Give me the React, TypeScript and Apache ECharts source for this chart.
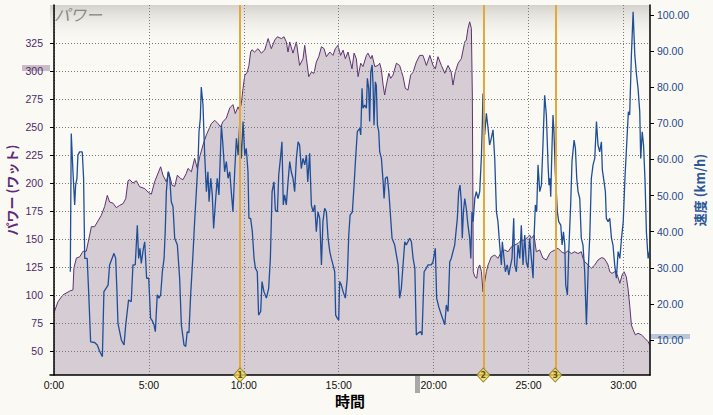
import React, { useEffect, useRef } from "react";
import * as echarts from "echarts";

// ---- data (time in minutes) ----
const powerTime = [0.00,0.21,0.47,0.83,1.00,1.05,1.18,1.35,1.53,1.70,1.88,1.97,2.14,2.49,2.67,2.81,2.93,3.11,3.28,3.46,3.64,3.78,3.90,3.99,4.16,4.34,4.51,4.78,4.95,5.13,5.30,5.62,5.74,5.92,6.04,6.22,6.36,6.50,6.67,6.80,6.97,7.06,7.24,7.41,7.55,7.68,7.85,8.03,8.29,8.47,8.64,8.78,8.90,9.08,9.26,9.43,9.55,9.70,9.78,9.87,9.96,10.05,10.18,10.27,10.36,10.43,10.57,10.75,10.92,11.10,11.28,11.45,11.63,11.77,11.98,12.12,12.24,12.33,12.42,12.59,12.77,12.94,13.12,13.21,13.30,13.42,13.56,13.70,13.82,13.95,14.09,14.23,14.35,14.53,14.70,14.82,14.96,15.10,15.23,15.35,15.49,15.63,15.70,15.81,15.93,16.02,16.16,16.28,16.46,16.54,16.69,16.76,16.90,17.07,17.16,17.25,17.34,17.42,17.51,17.64,17.74,17.86,18.04,18.21,18.39,18.51,18.65,18.79,18.92,19.09,19.27,19.44,19.62,19.80,19.97,20.09,20.23,20.41,20.59,20.76,20.93,21.02,21.14,21.29,21.46,21.64,21.72,21.81,21.90,21.99,22.04,22.09,22.17,22.27,22.34,22.43,22.52,22.60,22.69,22.78,22.87,23.04,23.22,23.39,23.57,23.75,23.92,24.10,24.27,24.45,24.62,24.80,24.97,25.06,25.15,25.29,25.41,25.59,25.76,25.94,26.12,26.20,26.38,26.56,26.73,26.91,27.08,27.26,27.43,27.61,27.78,27.87,27.96,28.14,28.31,28.49,28.66,28.84,28.98,29.10,29.19,29.28,29.40,29.54,29.68,29.81,29.93,30.03,30.15,30.24,30.33,30.42,30.51,30.63,30.77,30.95,31.13,31.30,31.39];
const powerWatts = [84,94,100,103.5,104.5,124,133,134,139,139,153.5,161,161,171,179,189,183,182,178,180,181.6,186,202,203,200,202,196.7,195,192,190,201,214.5,207,201,210,198,197,207,204,203,208.6,213,210,222,213,223.5,234,243,253,256,253,250,254.7,258,267,270,262,268,265,271,284.5,296,299,305,317,319,317,320,316,318.7,329,320,327.7,330.6,329,330.6,326,317,326,316,326,305,311,323,311,295,299,298,308,312.8,321.7,320,312.8,317,314,320,323,314,318.7,311,317,307,302,316,311,295,307,304,314,316,311,314,304,305,307,301,287.5,278.6,287.5,298,293.5,296.4,307,305,295,284.5,283,296.4,299,308,314,314,305,314,305,302,312.8,305,298,305,299,287.5,299,307,311,326,327.7,338,344,338,278.6,120.8,116.3,114.9,123.8,126.8,120.8,103,111.9,120.8,126.8,134,135.7,132.7,138.6,140.2,138.6,143,144.6,146,149,149,152,153.5,150.6,153.5,138.6,140.2,133,131.2,137.2,138.6,140,141.7,138.6,137,139.5,137,138.6,137,138.6,132.7,129.7,126.8,123.8,126.8,131.2,133.3,132.7,129.7,126.8,120.8,119.3,120.8,117.8,110.4,117.8,120.8,116.3,106,91,73.2,69,64.3,65.8,64.3,61.3,58.3,55.3];

const speedTime = [0.86,0.91,1.00,1.09,1.14,1.21,1.26,1.35,1.49,1.56,1.62,1.75,1.84,1.93,2.14,2.28,2.41,2.55,2.63,2.85,2.93,3.16,3.25,3.32,3.37,3.55,3.69,3.78,3.86,3.93,4.07,4.16,4.28,4.39,4.46,4.53,4.60,4.71,4.78,4.88,4.99,5.09,5.16,5.27,5.34,5.44,5.53,5.62,5.71,5.80,5.86,5.92,6.01,6.10,6.18,6.27,6.36,6.50,6.62,6.71,6.85,6.94,7.02,7.11,7.20,7.32,7.41,7.50,7.59,7.64,7.71,7.76,7.85,7.94,8.03,8.11,8.17,8.26,8.34,8.41,8.52,8.60,8.69,8.82,8.90,8.99,9.08,9.17,9.26,9.34,9.43,9.52,9.61,9.70,9.78,9.87,9.96,10.05,10.13,10.22,10.27,10.36,10.45,10.54,10.61,10.71,10.78,10.89,10.96,11.06,11.19,11.31,11.40,11.49,11.59,11.66,11.77,11.84,11.93,12.01,12.08,12.15,12.24,12.33,12.42,12.50,12.59,12.68,12.77,12.86,12.94,13.03,13.12,13.21,13.30,13.37,13.47,13.56,13.65,13.74,13.82,13.91,14.00,14.09,14.17,14.26,14.35,14.44,14.53,14.61,14.70,14.79,14.84,14.93,15.00,15.05,15.14,15.23,15.35,15.45,15.53,15.60,15.72,15.81,15.88,15.98,16.11,16.16,16.23,16.28,16.37,16.46,16.51,16.58,16.63,16.69,16.76,16.81,16.86,16.93,16.98,17.04,17.11,17.16,17.25,17.34,17.39,17.46,17.56,17.64,17.72,17.81,17.95,18.04,18.13,18.21,18.30,18.39,18.48,18.56,18.74,18.83,18.92,19.01,19.09,19.18,19.32,19.39,19.50,19.62,19.71,19.88,19.97,20.09,20.16,20.27,20.41,20.59,20.67,20.76,20.85,20.93,21.02,21.11,21.25,21.32,21.39,21.46,21.51,21.57,21.64,21.72,21.81,21.90,21.96,22.02,22.08,22.17,22.25,22.34,22.43,22.52,22.57,22.60,22.69,22.78,22.87,22.95,23.04,23.13,23.22,23.31,23.39,23.48,23.57,23.62,23.71,23.78,23.88,23.96,24.06,24.13,24.22,24.27,24.36,24.45,24.54,24.62,24.71,24.80,24.88,24.97,25.06,25.15,25.24,25.29,25.36,25.43,25.50,25.59,25.68,25.76,25.85,25.94,26.03,26.08,26.13,26.17,26.24,26.29,26.34,26.41,26.52,26.59,26.70,26.77,26.84,26.91,26.96,27.05,27.12,27.22,27.29,27.40,27.47,27.54,27.61,27.70,27.78,27.87,27.96,28.05,28.14,28.23,28.31,28.40,28.49,28.58,28.66,28.75,28.84,28.89,28.98,29.05,29.10,29.19,29.28,29.37,29.45,29.54,29.63,29.72,29.81,29.90,29.99,30.08,30.17,30.26,30.33,30.42,30.51,30.60,30.69,30.77,30.86,30.91,30.99,31.06,31.14,31.21,31.30,31.37];
const speedKmh = [28.9,67.2,56.6,47.4,52.9,54.8,61.2,62.1,62.1,54.8,32.6,32.6,21.6,9.5,9.3,8.6,6.8,5.4,23.4,25.2,30.8,34,32.6,23,14.6,10,8.6,14.2,17.9,21.1,20.6,30.8,30.8,41.8,32.6,35.4,31.2,35.4,37.2,27.1,27.1,16,15.5,14.2,12.3,22.5,21.6,22.5,28.9,32.6,40,51.1,56.6,54.8,48.3,46.9,38.2,36.3,27.1,14.2,8.6,8.2,12.3,12.0,22.5,33.5,42.8,51.1,59.4,67.7,71.4,80.1,75.1,61.2,51.1,56.6,48.3,54.8,50.2,40.9,49.2,54.8,50.2,69.5,64,56.6,59.4,54.8,56.6,51.1,45.5,56.6,65.9,61.2,69.5,60.3,70.5,61.2,63.1,56.6,43.7,43.7,40,32.6,29.9,28.9,16.9,17.9,26.2,23.4,21.6,24.3,32.6,51.1,53.8,46,45.5,55.7,60.3,64.9,47.4,50.2,47.4,53.8,59.4,56.6,54.8,51.1,60.3,64.9,64,57.5,60.3,58.5,61.2,53.8,61.7,47.4,45.5,47.4,40,45.5,43.7,30.8,42.8,46.5,45.5,38.2,34.5,32.6,30.8,28.9,16.9,16,15.5,26.2,25.2,23.4,21.6,27.1,39.1,44.6,45.5,52.9,59.4,67.7,68.6,66.8,79.7,74.2,75.1,74.2,82.5,79.7,70.5,84.3,86.2,80.6,69.5,81.5,80.6,69.5,67.7,62.1,60.3,53.8,49.2,54.8,55.2,51.1,45.1,38.2,36.3,33.5,30.8,21.6,24.3,30.8,37.2,36.3,38.2,37.2,32.6,29.9,11.4,11.9,12.3,11.4,28.9,29.9,30.8,30.8,31.7,35.4,21.6,19.2,16.9,14.2,19.7,17.9,31.7,32.6,34.5,36.3,43.7,51.1,52.9,48.3,38.2,45.5,49.2,46.5,41.8,38.2,32.6,45.5,42.8,49.2,51.1,49.2,51.1,61.2,70.5,78.3,66.8,72.8,68.6,64,65.9,68.2,60.3,45.5,42.8,36.3,30.8,37.2,32.6,28.9,30.8,28,30.8,32.6,43.7,30.8,28.9,36.3,32.6,41.8,30.8,39.1,31.7,29.9,38.2,32.6,27.1,38.2,47.4,45.5,58.5,51.1,52.9,64,77.8,72.3,58.5,52.9,54.8,49.7,64,72.3,67.7,56.6,45.5,42.8,41.8,36.3,40,36.3,25.2,22.5,34.5,47.4,59.4,65.4,63.1,54.8,51.1,49.2,38.2,36.3,28.9,14.2,28.9,39.1,54.8,58.5,60.3,70.5,64,62.1,64.9,57.1,53.8,51.1,43.7,42.8,43.7,38.2,36.3,30.8,27.1,34.5,32.6,38.2,42.8,54.8,64,73.2,72.3,88.9,100.9,88.9,83.4,79.7,73.2,60.3,67.7,64,53.8,40,32.6,34.5];

const timeTicks = [0, 5, 10, 15, 20, 25, 30];
const powerTicks = [50, 75, 100, 125, 150, 175, 200, 225, 250, 275, 300, 325];
const speedTicks = [10, 20, 30, 40, 50, 60, 70, 80, 90, 100];
const timeRange = [-0.21, 31.4];
const powerRange = [28.5, 359];
const speedRange = [0.3, 102.8];
const markerTimes = [9.8, 22.62, 26.41];
const markerLabels = ["1", "2", "3"];
const cursorTime = [19.15];
const cursorPower = [300];
const cursorSpeed = [10];

const NUM_FONT = "'Liberation Sans','Arial',sans-serif";
const JP_FONT = "'Noto Sans CJK JP','Noto Sans',sans-serif";

const GRID = { left: 50, right: 63, top: 5, bottom: 40 };
const W = 713;
const H = 415;

function fmtTime(v: number) {
  const total = Math.round(v * 60);
  const m = Math.floor(total / 60);
  const s = total - m * 60;
  return m + ":" + (s < 10 ? "0" : "") + s;
}

export default function App() {
  const ref = useRef<HTMLDivElement>(null);
  useEffect(() => {
    if (!ref.current) return;
    const chart = echarts.init(ref.current, undefined, { renderer: "svg" });
    const dotted = { color: "#7a7a7a", width: 1, type: [1, 2] as any };
    const plotW = W - GRID.left - GRID.right;
    const baseGraphic: any[] = [
      {
        type: "rect",
        z: 1,
        silent: true,
        shape: { x: GRID.left, y: GRID.top, width: plotW, height: 40 },
        style: {
          fill: new echarts.graphic.LinearGradient(0, 0, 0, 1, [
            { offset: 0, color: "#d5d2cc" },
            { offset: 1, color: "rgba(251,249,244,0)" },
          ]),
        },
      },
      {
        type: "text",
        z: 1,
        silent: true,
        x: GRID.left + 4,
        y: GRID.top + 1,
        style: {
          text: "パワー",
          fill: "#8a8884",
          font: "italic 16px " + JP_FONT,
        },
      },
    ];
    chart.setOption({
      animation: false,
      backgroundColor: "#fbf9f4",
      grid: { ...GRID, containLabel: false, outerBoundsMode: "none" },
      xAxis: {
        type: "value",
        min: timeRange[0],
        max: timeRange[1],
        z: 3,
        axisLine: { show: true, lineStyle: { color: "#000", width: 1.5 } },
        axisTick: { show: false, customValues: timeTicks },
        axisLabel: {
          customValues: timeTicks,
          formatter: (v: number) => fmtTime(v),
          color: "#111",
          fontFamily: NUM_FONT,
          fontSize: 10.5,
          margin: 4,
        },
        splitLine: { show: true, lineStyle: dotted },
        name: "時間",
        nameLocation: "middle",
        nameGap: 18,
        nameMoveOverlap: false,
        nameTextStyle: { fontFamily: JP_FONT, fontWeight: "bold", fontSize: 15, color: "#000" },
      },
      yAxis: [
        {
          type: "value",
          position: "left",
          min: powerRange[0],
          max: powerRange[1],
          z: 3,
          axisLine: { show: true, lineStyle: { color: "#000", width: 1.5 } },
          axisTick: { show: true, length: 4, customValues: powerTicks, lineStyle: { color: "#000" } },
          axisLabel: {
            customValues: powerTicks,
            color: "#4b2a68",
            fontFamily: NUM_FONT,
            fontSize: 10.5,
            margin: 7,
          },
          splitLine: { show: true, lineStyle: dotted },
          name: "パワー (ワット)",
          nameLocation: "middle",
          nameRotate: 90,
          nameGap: 32,
          nameMoveOverlap: false,
          nameTextStyle: { fontFamily: JP_FONT, fontWeight: "bold", fontSize: 13, color: "#5c2a78" },
        },
        {
          type: "value",
          position: "right",
          min: speedRange[0],
          max: speedRange[1],
          z: 3,
          axisLine: { show: true, lineStyle: { color: "#000", width: 1.5 } },
          axisTick: { show: true, length: 4, customValues: speedTicks, lineStyle: { color: "#000" } },
          axisLabel: {
            customValues: speedTicks,
            formatter: (v: number) => v.toFixed(2),
            color: "#1f4a8c",
            fontFamily: NUM_FONT,
            fontSize: 10.5,
            margin: 7,
          },
          splitLine: { show: false },
          name: "速度 (km/h)",
          nameLocation: "middle",
          nameRotate: 90,
          nameGap: 43,
          nameMoveOverlap: false,
          nameTextStyle: { fontFamily: JP_FONT, fontWeight: "bold", fontSize: 13, color: "#2a5597" },
        },
      ],
      graphic: baseGraphic,
      series: [
        {
          type: "line",
          name: "power",
          yAxisIndex: 0,
          z: 2,
          showSymbol: false,
          symbol: "none",
          data: powerTime.map((t, i) => [t, powerWatts[i]]),
          lineStyle: { color: "#5e3370", width: 1 },
          areaStyle: { color: "#d6ccd4", opacity: 1, origin: "start" },
        },
        {
          type: "line",
          name: "speed",
          yAxisIndex: 1,
          z: 4,
          showSymbol: false,
          symbol: "none",
          data: speedTime.map((t, i) => [t, speedKmh[i]]),
          lineStyle: { color: "#1f4e98", width: 1.3 },
          markLine: {
            silent: true,
            symbol: ["none", "none"],
            label: { show: false },
            lineStyle: { color: "#e2a83a", width: 2, type: "solid" },
            data: markerTimes.map((t) => ({ xAxis: t })),
          },
        },
        {
          type: "scatter",
          yAxisIndex: 0,
          z: 6,
          clip: false,
          symbol: "diamond",
          symbolSize: [13, 14],
          itemStyle: { color: "#f5da55", borderColor: "#7d6a1c", borderWidth: 1 },
          label: {
            show: true,
            position: "inside",
            formatter: (p: any) => markerLabels[p.dataIndex],
            fontSize: 8,
            fontWeight: "bold",
            color: "#3b3000",
            fontFamily: "'DejaVu Sans',sans-serif",
          },
          data: markerTimes.map((t) => [t, powerRange[0]]),
        },
      ],
    });

    const yPow = chart.convertToPixel({ yAxisIndex: 0 }, cursorPower[0]) as number;
    const ySpd = chart.convertToPixel({ yAxisIndex: 1 }, cursorSpeed[0]) as number;
    const xCur = chart.convertToPixel({ xAxisIndex: 0 }, cursorTime[0]) as number;
    const bottomY = H - GRID.bottom;
    chart.setOption({
      graphic: [
        ...baseGraphic,
        {
          type: "rect",
          z: 1,
          silent: true,
          shape: { x: 22, y: yPow - 6, width: GRID.left - 22, height: 6 },
          style: { fill: "#c9b9c9" },
        },
        {
          type: "rect",
          z: 1,
          silent: true,
          shape: { x: W - GRID.right, y: ySpd - 6, width: 40, height: 5 },
          style: { fill: "#b7c6d8" },
        },
        {
          type: "rect",
          z: 1,
          silent: true,
          shape: { x: xCur - 2.5, y: bottomY + 1, width: 5, height: 17 },
          style: { fill: "#a9a9a9" },
        },
      ],
    });

    return () => chart.dispose();
  }, []);
  return (
    <div
      ref={ref}
      style={{ position: "fixed", left: 0, top: 0, width: W + "px", height: H + "px" }}
    />
  );
}
